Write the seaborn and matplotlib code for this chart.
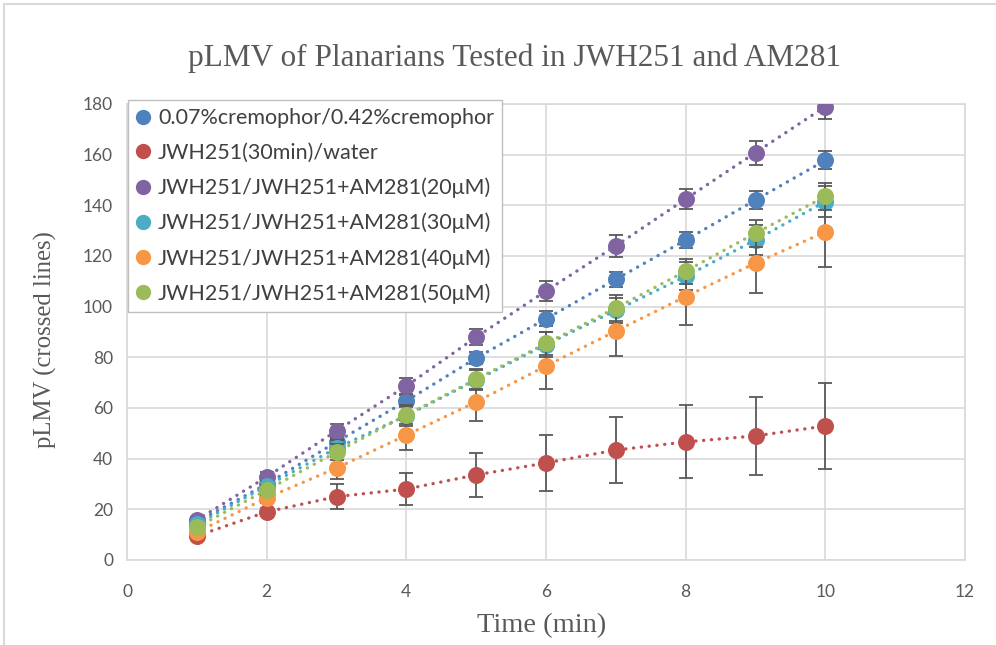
import matplotlib
matplotlib.use("Agg")
import matplotlib.pyplot as plt
import seaborn as sns
import pandas as pd
from matplotlib.lines import Line2D
from matplotlib.patches import Rectangle

# ---- data ----
time_min = [1, 2, 3, 4, 5, 6, 7, 8, 9, 10]
series_names = [
    "0.07%cremophor/0.42%cremophor",
    "JWH251(30min)/water",
    "JWH251/JWH251+AM281(20μM)",
    "JWH251/JWH251+AM281(30μM)",
    "JWH251/JWH251+AM281(40μM)",
    "JWH251/JWH251+AM281(50μM)",
]
cremophor_vals = [15, 30, 46.6, 62.8, 79.7, 95.2, 110.8, 126.3, 142.1, 157.8]
cremophor_err = [1, 1.5, 2, 2.5, 2.5, 3, 3, 3, 3.5, 3.5]
water_vals = [9.5, 19, 25, 28, 33.6, 38.3, 43.4, 46.6, 49, 52.9]
water_err = [1, 1.5, 5, 6.2, 8.6, 11, 13, 14.4, 15.5, 17]
am20_vals = [15.8, 32.8, 51, 68.7, 88, 106.2, 124, 142.5, 160.8, 179]
am20_err = [1, 2, 2.7, 3, 3, 4, 4.3, 4, 4.7, 5]
am30_vals = [14.2, 29.2, 44.2, 57, 71, 85, 98.5, 112, 126.3, 141.5]
am30_err = [1, 2, 3, 4, 4, 5, 5, 5.5, 6, 6]
am40_vals = [11, 24.5, 36.3, 49.3, 62.4, 76.6, 90.4, 104, 117.2, 129.5]
am40_err = [1, 2, 4.3, 6, 7.6, 9, 10, 11.4, 12, 14]
am50_vals = [13, 27.6, 42.6, 57.2, 71.4, 85.5, 99.5, 114, 129, 143.5]
am50_err = [1, 2, 3, 3.5, 4, 4.5, 5, 5, 5.3, 5.3]

values = [cremophor_vals, water_vals, am20_vals, am30_vals, am40_vals, am50_vals]
errors = [cremophor_err, water_err, am20_err, am30_err, am40_err, am50_err]
colors = ["#4F81BD", "#C0504D", "#8064A2", "#4BACC6", "#F79646", "#9BBB59"]

x_ticks = [0, 2, 4, 6, 8, 10, 12]
y_ticks = [0, 20, 40, 60, 80, 100, 120, 140, 160, 180]

rows = []
for name, vals, errs in zip(series_names, values, errors):
    for t, v, e in zip(time_min, vals, errs):
        rows.append({"series": name, "time": t, "value": v, "err": e})
df = pd.DataFrame(rows)

# ---- style ----
sns.set_theme(style="whitegrid")
plt.rcParams['font.family'] = ['Lato', 'DejaVu Sans']

fig = plt.figure(figsize=(9.96, 6.45), dpi=100)
fig.patch.set_facecolor("white")
ax = fig.add_axes([127 / 996, 85 / 645, 838 / 996, 456 / 645])
ax.set_facecolor("white")

for i, (name, c) in enumerate(zip(series_names, colors)):
    sub = df[df["series"] == name]
    z = 3 + i
    sns.lineplot(data=sub, x="time", y="value", ax=ax, color=c,
                 estimator=None, sort=False, lw=2.4,
                 linestyle=(0, (0.05, 2.3)), dash_capstyle="round",
                 zorder=z, legend=False)
    ax.errorbar(sub["time"], sub["value"], yerr=sub["err"], fmt="none",
                ecolor="#595959", elinewidth=1.3, capsize=5, capthick=1.3,
                zorder=z)
    sns.scatterplot(data=sub, x="time", y="value", ax=ax, color=c,
                    s=150, linewidth=0, zorder=z + 0.5, legend=False)

ax.set_xlim(0, 12)
ax.set_ylim(0, 180)
ax.set_xticks(x_ticks)
ax.set_yticks(y_ticks)
ax.grid(True, color="#D9D9D9", lw=1.2)
for sp in ax.spines.values():
    sp.set_color("#D9D9D9")
    sp.set_linewidth(1.2)
ax.tick_params(axis="both", length=0, labelsize=12.5, colors="#595959")
ax.tick_params(axis="x", pad=17)
ax.tick_params(axis="y", pad=10)
ax.set_xlabel("")
ax.set_ylabel("")

# labels & title
fig.text(515 / 996, 1 - 58 / 645, "pLMV of Planarians Tested in JWH251 and AM281",
         family="Liberation Serif", fontsize=22.5, color="#595959",
         ha="center", va="center")
fig.text(542 / 996, 1 - 626 / 645, "Time (min)", family="Liberation Serif",
         fontsize=20.5, color="#595959", ha="center", va="center")
fig.text(45 / 996, 1 - 340 / 645, "pLMV (crossed lines)", family="Liberation Serif",
         fontsize=17.8, color="#595959", ha="center", va="center", rotation=90)

# legend
handles = [Line2D([], [], marker="o", ls="", color=c, markersize=10) for c in colors]
leg = ax.legend(handles, series_names, loc="upper left",
                bbox_to_anchor=(128 / 996, 1 - 100 / 645),
                bbox_transform=fig.transFigure, frameon=True, fancybox=False,
                edgecolor="#BFBFBF", framealpha=1, fontsize=15.5,
                handlelength=0.6, handletextpad=0.42, labelspacing=0.68,
                borderpad=0.38, borderaxespad=0)
leg.get_frame().set_linewidth(1.0)
leg.set_zorder(20)
for t in leg.get_texts():
    t.set_color("#404040")

# outer chart border
fig.patches.append(Rectangle((4 / 996, -0.02), 1.1, 1 - 4 / 645 + 0.02,
                             transform=fig.transFigure, fill=False,
                             edgecolor="#D9D9D9", lw=1.5, zorder=0))

fig.savefig("out.png", dpi=100)
